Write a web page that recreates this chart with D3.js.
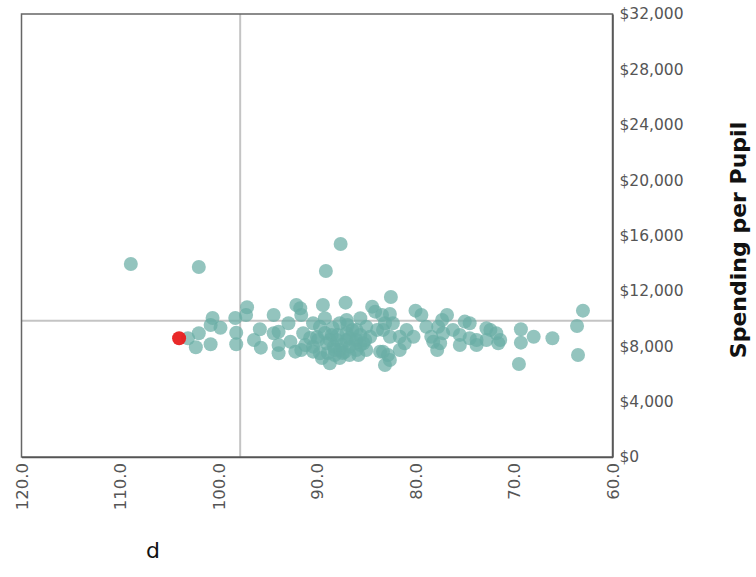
<!DOCTYPE html>
<html>
<head>
<meta charset="utf-8">
<script src="https://cdn.jsdelivr.net/npm/d3@7"></script>
<style>
  html, body { margin: 0; padding: 0; background: #fff; }
  svg { display: block; }
</style>
</head>
<body>
<svg id="chart" width="756" height="577"></svg>
<script>
// ---- Data ----
const xTicks = [120, 110, 100, 90, 80, 70, 60];
const yTicks = [0, 4000, 8000, 12000, 16000, 20000, 24000, 28000, 32000];
const yTitle = "Spending per Pupil";
const xTitle = "d";

// teal points: x value, spending
const px = [108.9,102.0,87.6,89.1,87.1,82.5,63.0,63.6,63.5,66.1,68.0,69.3,69.3,69.5,71.8,71.4,71.6,72.4,72.8,72.8,
  73.8,73.8,74.5,75.0,74.5,75.5,75.5,76.2,76.8,77.3,77.2,77.5,77.7,77.8,78.2,78.4,78.9,79.4,80.0,80.2,
  80.9,81.1,81.6,81.6,82.3,82.6,82.6,82.6,83.1,83.3,83.3,82.8,83.1,83.4,83.6,83.9,84.1,84.4,84.6,85.0,
  85.3,85.6,86.0,86.0,86.0,86.7,86.7,87.0,87.0,87.0,87.7,87.7,88.0,88.3,88.5,88.7,89.0,89.2,89.4,89.7,
  89.7,90.4,90.4,90.4,91.4,91.6,91.6,91.7,92.1,92.2,92.7,92.9,93.9,93.9,93.9,94.4,94.4,95.7,95.8,96.4,
  97.1,97.2,98.2,98.2,98.3,99.8,100.6,100.8,100.8,102.0,102.3,103.1,85.6,85.0,87.4,88.2,88.7,90.0,
  89.2,88.4,87.9,87.5,86.7,86.1,87.2,86.4,85.6,88.2,88.9,87.7,85.8,85.1,89.9,90.7,91.2,86.9,89.5];
const py = [13940,13730,15390,13440,11150,11560,10570,9465,7370,8580,8690,9230,8260,6720,8940,8450,8220,9180,9300,8450,
  8450,8090,9660,9780,8580,8820,8090,9180,10260,9900,8940,8220,9410,7730,8330,8690,9410,10260,10570,8690,
  9180,8220,8690,7730,9660,10330,8690,7010,6650,9180,7610,7370,9660,10260,7610,9180,10500,10860,8690,9410,
  8220,10020,9180,8450,7730,7970,7370,9900,8940,8450,9660,7730,8450,7970,8820,6770,8220,10020,10980,9410,
  7490,9660,7970,7610,8940,10260,7730,10740,10980,7610,8330,9660,9050,8090,7490,10260,8940,7900,9230,8450,
  10820,10260,8980,8140,10040,9340,10040,9540,8140,8940,7930,8580,8090,7730,7510,7370,8450,8670,
  8960,9320,8820,8090,8600,8240,7590,9180,8820,7730,7510,7150,7370,8450,8450,8600,8090,9540,7150];

// highlighted point
const hiX = [104.0];
const hiY = [8580];

// reference lines
const refX = [97.8];
const refY = [9850];

// ---- Layout ----
const svg = d3.select("#chart");
const mL = 21.5, mR = 612.5, mT = 14, mB = 457;

const x = d3.scaleLinear().domain([120, 60]).range([mL, mR]);
const y = d3.scaleLinear().domain([0, 32000]).range([mB, mT]);

const fontFam = "'DejaVu Sans', Verdana, sans-serif";

// reference lines
svg.append("g").selectAll("line").data(refX).join("line")
  .attr("x1", d => x(d)).attr("x2", d => x(d))
  .attr("y1", mT).attr("y2", mB)
  .attr("stroke", "#c4c4c4").attr("stroke-width", 2);
svg.append("g").selectAll("line").data(refY).join("line")
  .attr("x1", mL).attr("x2", mR)
  .attr("y1", d => y(d)).attr("y2", d => y(d))
  .attr("stroke", "#c4c4c4").attr("stroke-width", 2);

// points
const pts = px.map((v, i) => ({x: v, y: py[i]}));
svg.append("g").selectAll("circle").data(pts).join("circle")
  .attr("cx", d => x(d.x)).attr("cy", d => y(d.y)).attr("r", 7)
  .attr("fill", "#6aada5").attr("fill-opacity", 0.72);

const hi = hiX.map((v, i) => ({x: v, y: hiY[i]}));
svg.append("g").selectAll("circle").data(hi).join("circle")
  .attr("cx", d => x(d.x)).attr("cy", d => y(d.y)).attr("r", 7)
  .attr("fill", "#e81e1e").attr("fill-opacity", 0.95);

// frame
svg.append("rect")
  .attr("x", mL).attr("y", mT)
  .attr("width", mR - mL).attr("height", mB - mT)
  .attr("fill", "none").attr("stroke", "#666").attr("stroke-width", 1.5);

// y axis on the right
const yAxis = d3.axisRight(y).tickValues(yTicks).tickSize(0).tickPadding(7)
  .tickFormat(d => "$" + d3.format(",")(d));
const gy = svg.append("g").attr("transform", `translate(${mR},0)`).call(yAxis);
gy.select(".domain").attr("stroke", "#555").attr("stroke-width", 1.5);
gy.selectAll("text").attr("fill", "#555").style("font-family", fontFam).style("font-size", "15.5px");

// x axis at bottom, rotated labels
const xAxis = d3.axisBottom(x).tickValues(xTicks).tickSize(0).tickFormat(d3.format(".1f"));
const gx = svg.append("g").attr("transform", `translate(0,${mB})`).call(xAxis);
gx.select(".domain").attr("stroke", "#555").attr("stroke-width", 1.5);
gx.selectAll("text")
  .attr("fill", "#555")
  .style("font-family", fontFam).style("font-size", "16.5px")
  .attr("text-anchor", "end")
  .attr("transform", "rotate(-90)")
  .attr("x", -6).attr("y", 0).attr("dy", "0.35em");

// y title
svg.append("text")
  .attr("transform", `translate(746,240) rotate(-90)`)
  .attr("text-anchor", "middle")
  .style("font-family", "'DejaVu Sans', sans-serif")
  .style("font-weight", "bold").style("font-size", "22px")
  .attr("fill", "#111")
  .text(yTitle);

// x title
svg.append("text")
  .attr("x", 153).attr("y", 558)
  .attr("text-anchor", "middle")
  .style("font-family", fontFam).style("font-size", "22px")
  .attr("fill", "#111")
  .text(xTitle);
</script>
</body>
</html>
